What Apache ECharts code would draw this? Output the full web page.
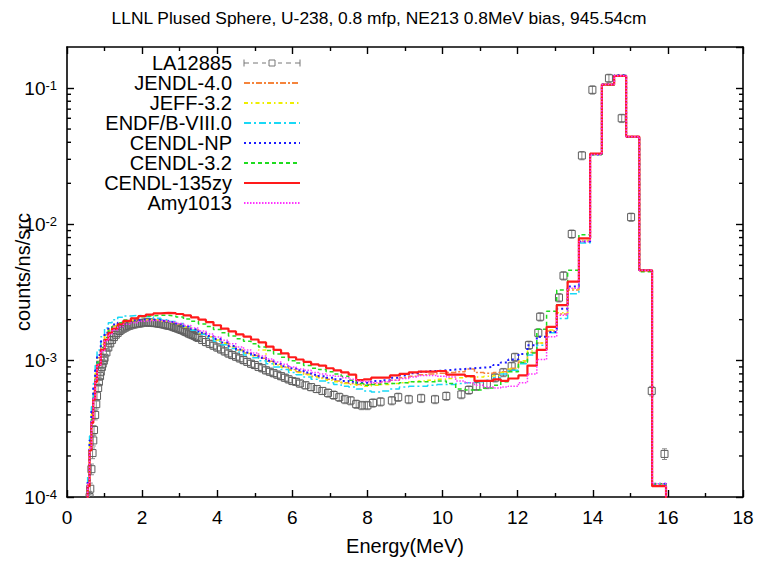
<!DOCTYPE html>
<html><head><meta charset="utf-8">
<script src="https://cdn.jsdelivr.net/npm/echarts@6/dist/echarts.min.js"></script>
<style>html,body{margin:0;padding:0;background:#fff}#c{width:758px;height:562px}</style>
</head><body><div id="c"></div>
<script>
// ---- data ----
const edges = [
  0.5, 0.55, 0.6, 0.65, 0.7, 0.75, 0.8, 0.9, 1.0, 1.1,
  1.2, 1.35, 1.5, 1.7, 1.9, 2.1, 2.3, 2.5, 2.7, 2.9,
  3.1, 3.3, 3.5, 3.7, 3.9, 4.1, 4.3, 4.5, 4.7, 4.9,
  5.1, 5.3, 5.5, 5.7, 5.9, 6.1, 6.3, 6.5, 6.7, 6.9,
  7.1, 7.3, 7.5, 7.7, 7.9, 8.1, 8.35, 8.6, 8.85, 9.1,
  9.35, 9.6, 9.85, 10.1, 10.35, 10.6, 10.85, 11.1, 11.35, 11.55,
  11.75, 12.02, 12.26, 12.51, 12.77, 13.04, 13.33, 13.63, 13.93, 14.24,
  14.57, 14.89, 15.24, 15.58, 15.95
];
const JENDL40 = [
  6e-5, 1.3e-4, 2.5e-4, 4.1e-4, 6.0e-4, 8.1e-4, 1.05e-3, 1.32e-3, 1.55e-3, 1.7e-3,
  1.8e-3, 1.87e-3, 1.93e-3, 1.97e-3, 1.99e-3, 2.0e-3, 1.98e-3, 1.95e-3, 1.91e-3, 1.85e-3,
  1.77e-3, 1.68e-3, 1.58e-3, 1.5e-3, 1.42e-3, 1.34e-3, 1.27e-3, 1.2e-3, 1.14e-3, 1.09e-3,
  1.04e-3, 9.9e-4, 9.4e-4, 9.0e-4, 8.6e-4, 8.3e-4, 8.0e-4, 7.7e-4, 7.5e-4, 7.3e-4,
  7.1e-4, 6.9e-4, 6.8e-4, 6.7e-4, 6.7e-4, 6.8e-4, 7.0e-4, 7.2e-4, 7.5e-4, 7.7e-4,
  7.9e-4, 8.0e-4, 8.1e-4, 8.2e-4, 8.3e-4, 8.7e-4, 8.2e-4, 8.1e-4, 8.2e-4, 8.3e-4,
  8.8e-4, 9.8e-4, 1.15e-3, 1.35e-3, 1.65e-3, 2.2e-3, 3.3e-3, 7.5e-3, 3.25e-2, 1.06e-1,
  1.23e-1, 4.4e-2, 4.6e-3, 1.25e-4
];
const JEFF32 = [
  6e-5, 1.3e-4, 2.5e-4, 4.1e-4, 6.0e-4, 8.1e-4, 1.05e-3, 1.32e-3, 1.55e-3, 1.7e-3,
  1.8e-3, 1.87e-3, 1.93e-3, 1.97e-3, 1.99e-3, 2.0e-3, 1.98e-3, 1.95e-3, 1.9e-3, 1.84e-3,
  1.76e-3, 1.67e-3, 1.58e-3, 1.5e-3, 1.42e-3, 1.34e-3, 1.26e-3, 1.19e-3, 1.13e-3, 1.08e-3,
  1.2e-3, 9.8e-4, 9.3e-4, 8.9e-4, 8.5e-4, 8.2e-4, 7.9e-4, 7.6e-4, 7.4e-4, 7.2e-4,
  7.0e-4, 6.8e-4, 6.7e-4, 6.6e-4, 6.5e-4, 6.6e-4, 6.7e-4, 6.8e-4, 6.9e-4, 7.0e-4,
  7.1e-4, 7.2e-4, 7.3e-4, 7.4e-4, 7.5e-4, 7.6e-4, 7.6e-4, 7.7e-4, 7.8e-4, 8.2e-4,
  8.7e-4, 1.0e-3, 1.18e-3, 1.35e-3, 1.68e-3, 2.25e-3, 3.35e-3, 7.6e-3, 3.25e-2, 1.06e-1,
  1.23e-1, 4.4e-2, 4.6e-3, 1.25e-4
];
const ENDFB80 = [
  6e-5, 1.4e-4, 2.8e-4, 4.6e-4, 6.8e-4, 9.2e-4, 1.2e-3, 1.5e-3, 1.74e-3, 1.9e-3,
  2.0e-3, 2.08e-3, 2.13e-3, 2.15e-3, 2.14e-3, 2.1e-3, 2.05e-3, 2.0e-3, 1.94e-3, 1.87e-3,
  1.78e-3, 1.67e-3, 1.56e-3, 1.47e-3, 1.39e-3, 1.31e-3, 1.23e-3, 1.16e-3, 1.1e-3, 1.05e-3,
  1.0e-3, 9.5e-4, 9.0e-4, 8.6e-4, 8.2e-4, 7.9e-4, 7.6e-4, 7.3e-4, 7.1e-4, 6.9e-4,
  6.7e-4, 6.5e-4, 6.4e-4, 6.2e-4, 6.0e-4, 5.9e-4, 6.0e-4, 6.2e-4, 6.4e-4, 6.5e-4,
  6.5e-4, 6.6e-4, 6.7e-4, 6.7e-4, 6.8e-4, 6.9e-4, 7.0e-4, 7.2e-4, 7.5e-4, 8.0e-4,
  8.5e-4, 9.5e-4, 1.1e-3, 1.3e-3, 1.6e-3, 2.04e-3, 3.1e-3, 7.3e-3, 3.25e-2, 1.06e-1,
  1.24e-1, 4.4e-2, 4.6e-3, 1.25e-4
];
const CENDLNP = [
  6e-5, 1.3e-4, 2.6e-4, 4.3e-4, 6.3e-4, 8.5e-4, 1.1e-3, 1.38e-3, 1.6e-3, 1.75e-3,
  1.84e-3, 1.9e-3, 1.95e-3, 1.98e-3, 2.0e-3, 2.0e-3, 1.99e-3, 1.96e-3, 1.92e-3, 1.86e-3,
  1.78e-3, 1.7e-3, 1.6e-3, 1.52e-3, 1.44e-3, 1.36e-3, 1.28e-3, 1.21e-3, 1.15e-3, 1.1e-3,
  1.05e-3, 1.0e-3, 9.5e-4, 9.1e-4, 8.8e-4, 8.5e-4, 8.2e-4, 7.9e-4, 7.7e-4, 7.5e-4,
  7.3e-4, 7.1e-4, 7.0e-4, 6.9e-4, 6.9e-4, 7.1e-4, 7.2e-4, 7.5e-4, 7.8e-4, 8.1e-4,
  8.3e-4, 8.4e-4, 8.5e-4, 8.6e-4, 8.7e-4, 8.8e-4, 8.9e-4, 9.0e-4, 9.3e-4, 9.7e-4,
  1.02e-3, 1.12e-3, 1.3e-3, 1.5e-3, 1.62e-3, 2.4e-3, 3.5e-3, 7.5e-3, 3.25e-2, 1.06e-1,
  1.24e-1, 4.4e-2, 4.6e-3, 1.25e-4
];
const CENDL32 = [
  6e-5, 1.2e-4, 2.3e-4, 3.7e-4, 5.5e-4, 7.4e-4, 9.8e-4, 1.25e-3, 1.48e-3, 1.65e-3,
  1.78e-3, 1.9e-3, 1.99e-3, 2.05e-3, 2.1e-3, 2.13e-3, 2.15e-3, 2.15e-3, 2.13e-3, 2.09e-3,
  2.02e-3, 1.95e-3, 1.86e-3, 1.78e-3, 1.69e-3, 1.6e-3, 1.52e-3, 1.45e-3, 1.39e-3, 1.33e-3,
  1.26e-3, 1.19e-3, 1.12e-3, 1.06e-3, 1.0e-3, 9.6e-4, 9.2e-4, 8.8e-4, 8.6e-4, 8.3e-4,
  8.0e-4, 7.7e-4, 7.2e-4, 6.8e-4, 6.6e-4, 6.7e-4, 6.8e-4, 6.8e-4, 6.9e-4, 7.0e-4,
  7.0e-4, 7.0e-4, 7.1e-4, 6.8e-4, 6.2e-4, 6.1e-4, 6.1e-4, 6.3e-4, 6.6e-4, 7.0e-4,
  8.3e-4, 9.7e-4, 1.14e-3, 1.7e-3, 2.3e-3, 3.3e-3, 4.6e-3, 8.4e-3, 3.25e-2, 1.05e-1,
  1.22e-1, 4.4e-2, 4.5e-3, 1.25e-4
];
const CENDL135zy = [
  6e-5, 1.2e-4, 2.2e-4, 3.5e-4, 5.2e-4, 7.0e-4, 9.3e-4, 1.2e-3, 1.42e-3, 1.6e-3,
  1.72e-3, 1.85e-3, 1.96e-3, 2.04e-3, 2.12e-3, 2.18e-3, 2.22e-3, 2.24e-3, 2.23e-3, 2.2e-3,
  2.15e-3, 2.08e-3, 2.0e-3, 1.92e-3, 1.82e-3, 1.72e-3, 1.64e-3, 1.56e-3, 1.5e-3, 1.43e-3,
  1.36e-3, 1.27e-3, 1.2e-3, 1.13e-3, 1.06e-3, 1.02e-3, 9.8e-4, 9.4e-4, 9.2e-4, 8.8e-4,
  8.5e-4, 8.2e-4, 7.9e-4, 7.2e-4, 7.3e-4, 7.5e-4, 7.5e-4, 7.8e-4, 8.0e-4, 8.2e-4,
  8.3e-4, 8.3e-4, 8.4e-4, 7.9e-4, 7.9e-4, 7.7e-4, 7.1e-4, 7.1e-4, 7.3e-4, 7.1e-4,
  7.4e-4, 7.8e-4, 9.2e-4, 1.2e-3, 1.77e-3, 2.56e-3, 3.8e-3, 7.9e-3, 3.3e-2, 1.06e-1,
  1.23e-1, 4.4e-2, 4.6e-3, 1.2e-4
];
const Amy1013 = [
  6e-5, 1.25e-4, 2.3e-4, 3.6e-4, 5.3e-4, 7.2e-4, 9.3e-4, 1.18e-3, 1.4e-3, 1.56e-3,
  1.68e-3, 1.77e-3, 1.85e-3, 1.9e-3, 1.95e-3, 1.97e-3, 1.97e-3, 1.95e-3, 1.92e-3, 1.87e-3,
  1.81e-3, 1.74e-3, 1.65e-3, 1.57e-3, 1.49e-3, 1.41e-3, 1.33e-3, 1.26e-3, 1.2e-3, 1.14e-3,
  1.08e-3, 1.03e-3, 9.8e-4, 9.4e-4, 9.0e-4, 8.7e-4, 8.5e-4, 8.2e-4, 8.0e-4, 7.8e-4,
  7.7e-4, 7.5e-4, 7.3e-4, 7.1e-4, 7.0e-4, 6.9e-4, 7.0e-4, 7.2e-4, 7.4e-4, 7.6e-4,
  7.8e-4, 7.8e-4, 7.7e-4, 7.6e-4, 7.1e-4, 6.9e-4, 6.6e-4, 6.4e-4, 6.3e-4, 6.4e-4,
  6.5e-4, 6.9e-4, 8.0e-4, 1.02e-3, 1.5e-3, 2.15e-3, 3.4e-3, 7.5e-3, 3.25e-2, 1.06e-1,
  1.23e-1, 4.4e-2, 4.6e-3, 1.25e-4
];
// LA12885 measurement
const expE = [
  0.6, 0.62, 0.65, 0.68, 0.7, 0.72, 0.75, 0.78, 0.8, 0.83,
  0.85, 0.88, 0.9, 0.93, 0.95, 0.98, 1.0, 1.05, 1.1, 1.15,
  1.2, 1.25, 1.3, 1.35, 1.4, 1.45, 1.5, 1.55, 1.6, 1.65,
  1.7, 1.75, 1.8, 1.85, 1.9, 1.95, 2.0, 2.05, 2.1, 2.15,
  2.2, 2.25, 2.3, 2.35, 2.4, 2.45, 2.5, 2.55, 2.6, 2.65,
  2.7, 2.75, 2.8, 2.85, 2.9, 2.95, 3.0, 3.05, 3.1, 3.15,
  3.2, 3.25, 3.3, 3.35, 3.4, 3.45, 3.5, 3.6, 3.7, 3.8,
  3.9, 4.0, 4.1, 4.2, 4.3, 4.4, 4.5, 4.6, 4.7, 4.8,
  4.9, 5.0, 5.1, 5.2, 5.3, 5.4, 5.5, 5.6, 5.7, 5.8,
  5.9, 6.0, 6.1, 6.2, 6.35, 6.5, 6.65, 6.8, 6.95, 7.1,
  7.25, 7.4, 7.55, 7.7, 7.85, 8.0, 8.15, 8.35, 8.65, 8.82,
  9.1, 9.43, 9.8, 10.1, 10.5, 10.7, 10.9, 11.18, 11.4, 11.62,
  11.84, 11.93, 12.3, 12.55, 12.6, 13.1, 13.22, 13.44, 13.71, 13.99,
  14.43, 14.77, 15.02, 15.57, 15.91
];
const expY = [
  1.0e-4, 1.15e-4, 1.6e-4, 2.1e-4, 2.6e-4, 3.1e-4, 4.0e-4, 4.8e-4, 5.5e-4, 6.3e-4,
  7.0e-4, 7.7e-4, 8.3e-4, 9.0e-4, 9.5e-4, 1.0e-3, 1.05e-3, 1.15e-3, 1.25e-3, 1.34e-3,
  1.42e-3, 1.49e-3, 1.55e-3, 1.6e-3, 1.65e-3, 1.69e-3, 1.72e-3, 1.75e-3, 1.78e-3, 1.8e-3,
  1.82e-3, 1.84e-3, 1.85e-3, 1.86e-3, 1.87e-3, 1.88e-3, 1.89e-3, 1.9e-3, 1.9e-3, 1.91e-3,
  1.9e-3, 1.9e-3, 1.89e-3, 1.89e-3, 1.88e-3, 1.87e-3, 1.86e-3, 1.85e-3, 1.84e-3, 1.82e-3,
  1.81e-3, 1.8e-3, 1.78e-3, 1.76e-3, 1.74e-3, 1.72e-3, 1.7e-3, 1.68e-3, 1.66e-3, 1.63e-3,
  1.61e-3, 1.58e-3, 1.56e-3, 1.54e-3, 1.52e-3, 1.49e-3, 1.47e-3, 1.42e-3, 1.37e-3, 1.33e-3,
  1.29e-3, 1.25e-3, 1.21e-3, 1.17e-3, 1.13e-3, 1.1e-3, 1.07e-3, 1.04e-3, 1.01e-3, 9.8e-4,
  9.5e-4, 9.3e-4, 9.0e-4, 8.8e-4, 8.5e-4, 8.3e-4, 8.1e-4, 7.9e-4, 7.7e-4, 7.5e-4,
  7.3e-4, 7.1e-4, 7.0e-4, 6.8e-4, 6.6e-4, 6.4e-4, 6.2e-4, 6.0e-4, 5.8e-4, 5.6e-4,
  5.4e-4, 5.2e-4, 5.1e-4, 4.8e-4, 4.7e-4, 4.7e-4, 4.9e-4, 5.0e-4, 5.1e-4, 5.4e-4,
  5.2e-4, 5.3e-4, 5.2e-4, 5.5e-4, 5.65e-4, 6.1e-4, 6.5e-4, 6.7e-4, 7.5e-4, 8.2e-4,
  9.1e-4, 1.06e-3, 1.3e-3, 1.6e-3, 2.1e-3, 2.9e-3, 4.2e-3, 8.5e-3, 3.2e-2, 9.7e-2,
  1.18e-1, 6.0e-2, 1.13e-2, 6.0e-4, 2.07e-4
];
const expRelErr = [
  0.10, 0.10, 0.09, 0.09, 0.09, 0.08, 0.08, 0.08, 0.08, 0.07,
  0.07, 0.07, 0.07, 0.07, 0.07, 0.07, 0.06, 0.06, 0.06, 0.06,
  0.06, 0.06, 0.06, 0.06, 0.06, 0.06, 0.06, 0.06, 0.06, 0.06,
  0.06, 0.06, 0.06, 0.06, 0.06, 0.06, 0.06, 0.06, 0.06, 0.06,
  0.06, 0.06, 0.06, 0.06, 0.06, 0.06, 0.06, 0.06, 0.06, 0.06,
  0.06, 0.06, 0.06, 0.06, 0.06, 0.06, 0.06, 0.06, 0.06, 0.06,
  0.06, 0.06, 0.06, 0.06, 0.06, 0.06, 0.06, 0.06, 0.06, 0.06,
  0.06, 0.06, 0.06, 0.06, 0.06, 0.06, 0.06, 0.06, 0.06, 0.06,
  0.06, 0.06, 0.06, 0.06, 0.06, 0.06, 0.06, 0.06, 0.06, 0.06,
  0.06, 0.06, 0.06, 0.06, 0.06, 0.06, 0.06, 0.06, 0.07, 0.07,
  0.07, 0.07, 0.07, 0.07, 0.07, 0.07, 0.07, 0.07, 0.07, 0.07,
  0.07, 0.07, 0.07, 0.07, 0.07, 0.07, 0.07, 0.07, 0.07, 0.07,
  0.07, 0.07, 0.07, 0.07, 0.07, 0.07, 0.07, 0.07, 0.07, 0.07,
  0.07, 0.07, 0.07, 0.08, 0.09
];
const yMinorTicks = [
  2e-4, 3e-4, 4e-4, 5e-4, 6e-4, 7e-4, 8e-4, 9e-4,
  2e-3, 3e-3, 4e-3, 5e-3, 6e-3, 7e-3, 8e-3, 9e-3,
  2e-2, 3e-2, 4e-2, 5e-2, 6e-2, 7e-2, 8e-2, 9e-2
];
const xRange = [0, 18];
const yRange = [1e-4, 0.2];

// ---- chart ----
const FONT = "'Liberation Sans', Arial, Helvetica, sans-serif";
const chart = echarts.init(document.getElementById('c'), null, {renderer: 'svg'});

function stepData(vals) {
  const d = vals.map((v, i) => [edges[i], v]);
  d.push([edges[edges.length - 1], 1e-6]);
  return d;
}
function lineSeries(name, vals, color, width, dash, z) {
  return {
    name, type: 'line', data: stepData(vals), step: 'end', symbol: 'none', showSymbol: false,
    clip: true, animation: false, silent: true, z,
    lineStyle: {color, width, type: dash}, itemStyle: {color}
  };
}
const tickStyle = {color: '#000', width: 1.4};
function xAx(pos, show) {
  return {
    type: 'value', position: pos, min: xRange[0], max: xRange[1], interval: 2,
    axisLine: {show: true, onZero: false, lineStyle: {color: '#000', width: 1.6}},
    axisTick: {show: true, inside: true, length: 7, lineStyle: tickStyle},
    minorTick: {show: true, splitNumber: 2, length: 4, lineStyle: tickStyle},
    splitLine: {show: false}, minorSplitLine: {show: false},
    axisLabel: {show: show, fontSize: 19, color: '#000', fontFamily: FONT, margin: 11},
    name: show ? 'Energy(MeV)' : '', nameLocation: 'middle', nameGap: 39,
    nameTextStyle: {fontSize: 20, color: '#000', fontFamily: FONT}
  };
}
function yAx(pos, show) {
  return {
    type: 'log', logBase: 10, position: pos, min: yRange[0], max: yRange[1],
    axisLine: {show: true, onZero: false, lineStyle: {color: '#000', width: 1.6}},
    axisTick: {show: true, inside: true, length: 7, lineStyle: tickStyle},
    splitLine: {show: false},
    axisLabel: {
      show: show, showMaxLabel: false, margin: 10, color: '#000', fontSize: 19, fontFamily: FONT,
      formatter: v => '10{s|' + Math.round(Math.log10(v)) + '}',
      rich: {s: {fontSize: 13, fontFamily: FONT, color: '#000', verticalAlign: 'top', lineHeight: 13}}
    },
    name: show ? 'counts/ns/src' : '', nameLocation: 'middle', nameGap: 34, nameRotate: 90,
    nameMoveOverlap: false,
    nameTextStyle: {fontSize: 20, color: '#000', fontFamily: FONT}
  };
}

const expIcon = 'path://M0,0L0,7M0,3.5L5,3.5M9,3.5L14,3.5M18,3.5L22,3.5M25,0.5L31,0.5L31,6.5L25,6.5ZM34,3.5L38,3.5M42,3.5L47,3.5M51,3.5L56,3.5M56,0L56,7';

const option = {
  animation: false,
  backgroundColor: '#fff',
  title: {
    text: 'LLNL Plused Sphere, U-238, 0.8 mfp, NE213 0.8MeV bias, 945.54cm',
    left: 'center', top: 9, padding: [0, 0, 0, 52],
    textStyle: {fontSize: 17.4, fontWeight: 'normal', color: '#000', fontFamily: FONT}
  },
  grid: {left: 67, right: 15, top: 47, bottom: 65, containLabel: false, outerBoundsMode: 'none'},
  legend: {
    orient: 'vertical', right: 457, top: 53, padding: 0, align: 'right',
    itemWidth: 56, itemHeight: 7, itemGap: 0, selectedMode: false,
    itemStyle: {color: 'rgba(0,0,0,0)', borderWidth: 0, opacity: 0},
    textStyle: {fontSize: 20, color: '#000', fontFamily: FONT, lineHeight: 19.7, padding: [0, 7, 0, 0]},
    data: [
      {name: 'LA12885', icon: expIcon, itemStyle: {color: 'rgba(0,0,0,0)', borderColor: '#777', borderWidth: 1, opacity: 1}},
      'JENDL-4.0', 'JEFF-3.2', 'ENDF/B-VIII.0', 'CENDL-NP', 'CENDL-3.2', 'CENDL-135zy', 'Amy1013'
    ]
  },
  xAxis: [xAx('bottom', true), xAx('top', false)],
  yAxis: [yAx('left', true), yAx('right', false)],
  series: [
    {
      name: 'LA12885', type: 'custom', xAxisIndex: 0, yAxisIndex: 0, clip: true, silent: true, z: 1,
      itemStyle: {color: '#777'},
      dimensions: ['E', 'y', 'err'], encode: {x: 0, y: 1},
      data: expE.map((e, i) => [e, expY[i], expRelErr[i]]),
      renderItem: (params, api) => {
        const x = api.value(0), y = api.value(1), e = api.value(2) * y;
        const c = api.coord([x, y]);
        const lo = api.coord([x, y - e]);
        const hi = api.coord([x, y + e]);
        const s = 3.5, cw = 2.5;
        const bar = {stroke: '#8a8a8a', lineWidth: 1};
        return {type: 'group', children: [
          {type: 'line', shape: {x1: c[0], y1: lo[1], x2: c[0], y2: hi[1]}, style: bar},
          {type: 'line', shape: {x1: c[0] - cw, y1: lo[1], x2: c[0] + cw, y2: lo[1]}, style: bar},
          {type: 'line', shape: {x1: c[0] - cw, y1: hi[1], x2: c[0] + cw, y2: hi[1]}, style: bar},
          {type: 'rect', shape: {x: c[0] - s, y: c[1] - s, width: 2 * s, height: 2 * s},
           style: {fill: 'none', stroke: '#5e5e5e', lineWidth: 1}}
        ]};
      }
    },
    lineSeries('JENDL-4.0', JENDL40, '#f5843c', 1.5, [6, 2, 2, 2], 2),
    lineSeries('JEFF-3.2', JEFF32, '#eeee00', 1.5, [4, 3, 1.5, 3], 3),
    lineSeries('ENDF/B-VIII.0', ENDFB80, '#19d8f5', 1.5, [7, 3, 2, 3], 4),
    lineSeries('CENDL-NP', CENDLNP, '#1a1aff', 2, [2, 3], 5),
    lineSeries('CENDL-3.2', CENDL32, '#1fdc1f', 1.5, [4, 3], 6),
    lineSeries('CENDL-135zy', CENDL135zy, '#ff1a1a', 2.2, 'solid', 7),
    lineSeries('Amy1013', Amy1013, '#ff33ff', 1.5, [1.5, 1.5], 8),
    {
      name: 'yminor', type: 'custom', xAxisIndex: 0, yAxisIndex: 0, silent: true, z: 10, clip: false,
      data: yMinorTicks.map(v => [xRange[0], v]), encode: {x: 0, y: 1},
      renderItem: (params, api) => {
        const v = api.value(1);
        const l = api.coord([xRange[0], v]);
        const r = api.coord([xRange[1], v]);
        const st = {stroke: '#000', lineWidth: 1.4};
        return {type: 'group', children: [
          {type: 'line', shape: {x1: l[0], y1: l[1], x2: l[0] + 4, y2: l[1]}, style: st},
          {type: 'line', shape: {x1: r[0] - 4, y1: r[1], x2: r[0], y2: r[1]}, style: st}
        ]};
      }
    }
  ]
};
chart.setOption(option);
</script>
</body></html>
